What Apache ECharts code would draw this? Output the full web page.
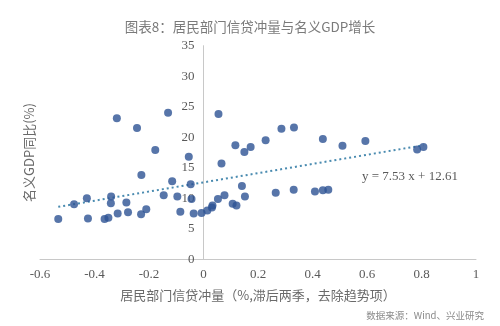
<!DOCTYPE html>
<html>
<head>
<meta charset="utf-8">
<script src="https://cdn.jsdelivr.net/npm/echarts@6/dist/echarts.min.js"></script>
<style>
  html, body { margin: 0; padding: 0; background: #fff; }
  #chart { width: 500px; height: 326px; }
</style>
</head>
<body>
<div id="chart"></div>
<script>
// Household credit impulse (lagged two quarters, detrended), %
var creditImpulse = [
  -0.533, -0.475, -0.428, -0.424, -0.363, -0.349, -0.339, -0.340, -0.315, -0.283,
  -0.277, -0.229, -0.228, -0.210, -0.146, -0.115, -0.096, -0.085, -0.054, -0.047,
  -0.044, -0.036, -0.007, -0.177, 0.014, 0.031, 0.033, 0.053, 0.077, 0.107,
  0.121, 0.141, 0.152, 0.066, 0.265, 0.331, 0.409, 0.438, 0.458, 0.510,
  0.594, 0.784, 0.807, 0.055, 0.117, 0.150, 0.173, 0.228, 0.286, 0.332,
  0.438, -0.318, -0.244, -0.130
];
// Nominal GDP, year-on-year %
var nominalGdp = [
  6.6, 9.0, 10.0, 6.7, 6.6, 6.8, 10.3, 9.2, 7.5, 9.3,
  7.7, 7.4, 13.8, 8.2, 10.5, 12.8, 10.3, 7.8, 16.8, 12.3,
  9.9, 7.5, 7.6, 17.9, 8.0, 8.5, 8.8, 9.9, 10.5, 9.1,
  8.8, 12.0, 10.3, 15.7, 10.9, 11.4, 11.1, 11.3, 11.4, 18.6,
  19.4, 18.0, 18.4, 23.8, 18.7, 17.6, 18.4, 19.5, 21.4, 21.6,
  19.7, 23.1, 21.5, 24.0
];
// Linear trend: y = 7.53 x + 12.61
var trendSlope = 7.53;
var trendIntercept = 12.61;
var xRange = [-0.6, 1];
var yRange = [0, 35];

var points = creditImpulse.map(function (x, i) { return [x, nominalGdp[i]]; });
var xLo = Math.min.apply(null, creditImpulse);
var xHi = Math.max.apply(null, creditImpulse);
var trend = [xLo, xHi].map(function (x) { return [x, trendSlope * x + trendIntercept]; });

var serif = '"Liberation Serif", "DejaVu Serif", serif';
var cjk = '"Noto Sans CJK SC", sans-serif';

// Plot box
var W = 500, H = 326;
var gridL = 40, gridR = 24, gridT = 45.7, gridB = 66.7;
var plotW = W - gridL - gridR;
// The vertical axis sits where x = 0
var zeroShift = plotW * (0 - xRange[0]) / (xRange[1] - xRange[0]);

var chart = echarts.init(document.getElementById('chart'), null, { renderer: 'canvas' });
chart.setOption({
  animation: false,
  backgroundColor: '#ffffff',
  title: {
    text: '图表8：居民部门信贷冲量与名义GDP增长',
    left: 'center',
    top: 15,
    textStyle: { fontFamily: cjk, fontSize: 13.5, fontWeight: 'normal', color: '#7a7a7a' }
  },
  grid: { left: gridL, right: gridR, top: gridT, bottom: gridB, outerBoundsMode: 'none', containLabel: false },
  xAxis: {
    type: 'value',
    min: xRange[0], max: xRange[1], interval: 0.2,
    splitLine: { show: false },
    axisTick: { show: false },
    axisLine: { show: true, onZero: false, lineStyle: { color: '#c8c8c8', width: 1 } },
    axisLabel: {
      margin: 9, color: '#595959', fontFamily: serif, fontSize: 13,
      formatter: function (v) { return String(Math.round(v * 10) / 10); }
    },
    name: '居民部门信贷冲量（%,滞后两季，去除趋势项）',
    nameLocation: 'middle',
    nameGap: 29,
    nameTextStyle: { fontFamily: cjk, fontSize: 13, color: '#6a6a6a' }
  },
  yAxis: {
    type: 'value',
    min: yRange[0], max: yRange[1], interval: 5,
    position: 'left',
    offset: -zeroShift,
    splitLine: { show: false },
    axisTick: { show: false },
    axisLine: { show: true, onZero: false, lineStyle: { color: '#c8c8c8', width: 1 } },
    axisLabel: { margin: 9, color: '#595959', fontFamily: serif, fontSize: 13 },
    name: '名义GDP同比(%)',
    nameLocation: 'middle',
    nameGap: 168,
    nameTextStyle: { fontFamily: cjk, fontSize: 13, color: '#6a6a6a' }
  },
  series: [
    {
      type: 'line',
      data: trend,
      showSymbol: false,
      symbol: 'none',
      silent: true,
      lineStyle: { color: '#4a8bb0', width: 2, type: [2, 3] },
      z: 1
    },
    {
      type: 'scatter',
      data: points,
      symbol: 'circle',
      symbolSize: 8,
      itemStyle: { color: '#2d5294' },
      z: 2
    }
  ],
  graphic: [
    {
      type: 'text',
      left: 362, top: 170,
      style: { text: 'y = 7.53 x + 12.61', font: '13px ' + serif, fill: '#595959' }
    },
    {
      type: 'text',
      right: 16, top: 311,
      style: { text: '数据来源：Wind、兴业研究', font: '9.5px ' + cjk, fill: '#8a8a8a' }
    }
  ]
});
</script>
</body>
</html>
